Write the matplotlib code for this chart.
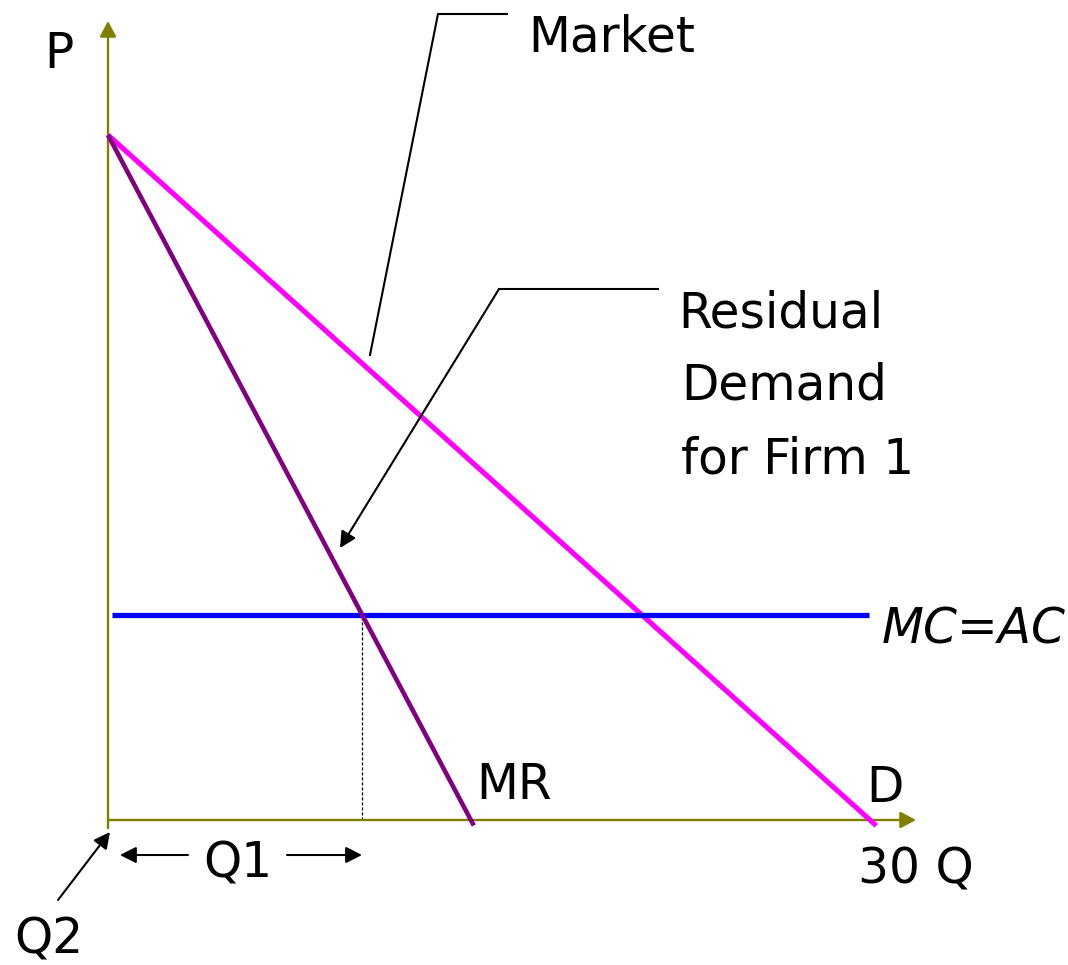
import matplotlib.pyplot as plt
import numpy as np

# chart values (Q on x, P on y)
demand_q = [0, 30.25]
demand_p = [30, -0.25]
mr_q = [0, 14.4]
mr_p = [30, 30 - 2.1 * 14.4]
mc_q = [0.15, 29.95]
mc_p = [9, 9]
q1 = 10
mc_level = 9

# pixel layout of the original slide
X0, Y0 = 108, 820          # origin in pixels
SX, SY = 25.4, 685 / 30.0  # pixels per unit
W, H = 1068, 965

def px(x, y):
    # pixel position -> data position
    return ((x - X0) / SX, (Y0 - y) / SY)

olive = '#808000'
fs = 35
plt.rcParams['font.family'] = ['DejaVu Sans']

fig = plt.figure(figsize=(W / 100, H / 100), dpi=100)
ax = fig.add_axes([0, 0, 1, 1])
ax.set_xlim(px(0, 0)[0], px(W, 0)[0])
ax.set_ylim(px(0, H)[1], px(0, 0)[1])
ax.axis('off')

# axes with arrows
arrow_ax = dict(arrowstyle='-|>,head_length=0.47,head_width=0.25', color=olive,
                lw=1.7, shrinkA=0, shrinkB=0, mutation_scale=20)
ax.annotate('', xy=px(108, 21), xytext=px(108, 828), arrowprops=arrow_ax)
ax.annotate('', xy=px(916, 820), xytext=(0, 0), arrowprops=arrow_ax)

# curves
ax.plot(demand_q, demand_p, color='#FF00FF', lw=3.7, solid_capstyle='butt', zorder=3)
ax.plot(mc_q, mc_p, color='#0000FF', lw=3.8, solid_capstyle='butt', zorder=3)
ax.plot(mr_q, mr_p, color='#800080', lw=3.3, solid_capstyle='butt', zorder=4)
ax.plot([q1, q1], [0, mc_level], color='black', lw=0.9, ls=(0, (2.5, 1.5)), zorder=2)

# text labels
def label(x, y, s, **kw):
    ax.text(*px(x, y), s, fontsize=fs, va='baseline', ha='left', **kw)

label(44, 68, 'P')
label(528, 52, 'Market')
label(678, 327, 'Residual')
label(681, 399, 'Demand')
label(681, 474, 'for Firm 1')
label(882, 644, 'MC=AC', style='italic')
label(476, 799, 'MR')
label(866, 802, 'D')
label(858, 884, '30 Q')
label(203, 878, 'Q1')
label(14, 953, 'Q2')

# callout lines
ax.plot(*zip(px(370, 355), px(438, 14), px(507, 14)), color='black', lw=1.5)
ax.plot(*zip(px(658, 289), px(499, 289)), color='black', lw=1.5)
arrow_k = dict(arrowstyle='-|>,head_length=0.65,head_width=0.33', color='black',
               lw=1.5, shrinkA=0, shrinkB=0, mutation_scale=15)
ax.annotate('', xy=px(340, 548), xytext=px(499, 289), arrowprops=arrow_k)
ax.annotate('', xy=px(120, 855), xytext=px(188, 855), arrowprops=arrow_k)
ax.annotate('', xy=px(362, 855), xytext=px(287, 855), arrowprops=arrow_k)
ax.annotate('', xy=px(110, 832), xytext=px(58, 900), arrowprops=arrow_k)

fig.savefig('out.png', dpi=100)
